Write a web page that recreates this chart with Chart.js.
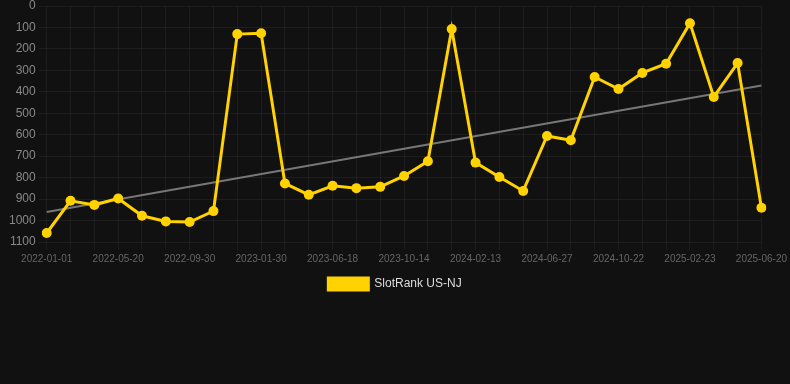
<!DOCTYPE html>
<html>
<head>
<meta charset="utf-8">
<script src="https://cdn.jsdelivr.net/npm/chart.js@4"></script>
<style>
  html, body { margin: 0; padding: 0; background: #111111; }
  #chartContainer { width: 790px; height: 300px; }
</style>
</head>
<body>
<div id="chartContainer"><canvas id="chart"></canvas></div>
<script>
const dates = [
  "2022-01-01", "2022-02-16", "2022-04-03", "2022-05-20", "2022-07-05", "2022-08-17",
  "2022-09-30", "2022-11-10", "2022-12-20", "2023-01-30", "2023-03-18", "2023-05-02",
  "2023-06-18", "2023-07-30", "2023-09-02", "2023-10-14", "2023-11-24", "2024-01-03",
  "2024-02-13", "2024-03-29", "2024-05-13", "2024-06-27", "2024-08-11", "2024-09-18",
  "2024-10-22", "2024-12-03", "2025-01-13", "2025-02-23", "2025-04-05", "2025-05-13",
  "2025-06-20",
];
const ranks = [
  1058, 908, 927, 897, 978, 1004, 1007, 956, 131, 127, 827, 880,
  838, 849, 843, 792, 724, 107, 730, 797, 862, 606, 626, 331,
  387, 312, 269, 80, 424, 266, 940,
];
// trend line end points
const trendStart = 960;
const trendEnd = 371;
const yTicks = [0, 100, 200, 300, 400, 500, 600, 700, 800, 900, 1000, 1100];

const trend = dates.map((d, i) => (i === 0 ? trendStart : i === dates.length - 1 ? trendEnd : null));

Chart.defaults.font.family = "Arial, 'Liberation Sans', sans-serif";

const ctx = document.getElementById("chart").getContext("2d");
new Chart(ctx, {
  type: "line",
  data: {
    labels: dates,
    datasets: [
      {
        label: "SlotRank US-NJ",
        data: ranks,
        borderColor: "#ffd200",
        backgroundColor: "#ffd200",
        borderWidth: 3,
        pointRadius: 5,
        pointHoverRadius: 5,
        pointBackgroundColor: "#ffd200",
        pointBorderWidth: 0,
        tension: 0,
        order: 0,
      },
      {
        label: "trend",
        data: trend,
        borderColor: "#777777",
        borderWidth: 2,
        pointRadius: 0,
        spanGaps: true,
        order: 1,
      },
    ],
  },
  options: {
    responsive: true,
    maintainAspectRatio: false,
    animation: false,
    plugins: {
      tooltip: { enabled: false },
      legend: {
        position: "bottom",
        labels: {
          color: "#dddddd",
          boxWidth: 40,
          boxHeight: 12,
          font: { size: 12 },
          filter: (item) => item.text !== "trend",
        },
      },
    },
    scales: {
      y: {
        reverse: true,
        min: 0,
        max: 1100,
        afterBuildTicks: (axis) => {
          axis.ticks = yTicks.map((v) => ({ value: v }));
        },
        // a bit more room on the left of the labels
        afterFit: (axis) => {
          axis.width += 6;
        },
        grid: { color: "rgba(255,255,255,0.05)" },
        border: { display: false },
        ticks: {
          color: "#888888",
          font: { size: 12, lineHeight: 0.5 },
          padding: 3,
          callback: (value) => String(value),
        },
      },
      x: {
        grid: { color: "rgba(255,255,255,0.05)" },
        border: { display: false },
        ticks: {
          color: "#666666",
          font: { size: 10 },
          autoSkip: false,
          maxRotation: 0,
          minRotation: 0,
          callback: function (value, index) {
            return index % 3 === 0 ? this.getLabelForValue(value) : "";
          },
        },
      },
    },
  },
});
</script>
</body>
</html>
